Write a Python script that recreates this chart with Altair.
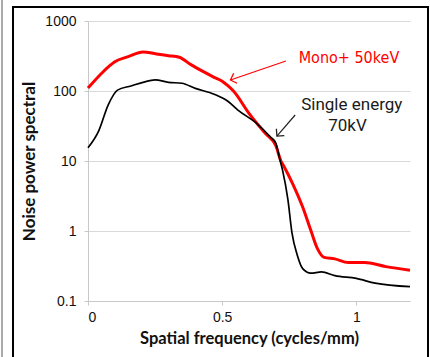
import math
import altair as alt
import pandas as pd

# ---- data ----
red_x = [0, 0.05, 0.08, 0.10, 0.15, 0.205, 0.255, 0.30, 0.34, 0.385, 0.43, 0.47, 0.50,
         0.52, 0.542, 0.60, 0.66, 0.70, 0.719, 0.731, 0.762, 0.80, 0.83, 0.855, 0.88,
         0.92, 0.97, 1.03, 1.11, 1.2]
red_y = [110, 178, 228, 262, 310, 362, 338, 320, 303, 236, 189, 157, 138,
         120, 100, 48, 25, 16.5, 10, 8.3, 4.8, 2.2, 1.03, 0.56, 0.42,
         0.40, 0.355, 0.355, 0.31, 0.275]

blk_x = [0, 0.04, 0.075, 0.11, 0.16, 0.205, 0.25, 0.30, 0.35, 0.40, 0.47, 0.52,
         0.56, 0.63, 0.68, 0.70, 0.715, 0.725, 0.745, 0.76, 0.78, 0.80, 0.83,
         0.87, 0.92, 1.0, 1.07, 1.2]
blk_y = [15.5, 27, 63, 103, 118, 133, 144, 133, 129, 109, 90, 72,
         53, 34, 22, 18, 10.5, 7.4, 2.8, 0.95, 0.45, 0.29, 0.25,
         0.26, 0.23, 0.21, 0.18, 0.16]

series_names = ["Mono+ 50keV", "Single energy 70kV"]
x_ticks = [0, 0.5, 1]
y_ticks = [0.1, 1, 10, 100, 1000]

# annotation anchors (data units)
red_label = ["Mono+ 50keV"]
red_label_x = [0.9725]
red_label_y = [250]
blk_label = ["Single energy", "70kV"]
blk_label_x = [0.983, 0.967]
blk_label_y = [53.5, 26.4]

arrow_x0 = [0.7376, 0.772]
arrow_y0 = [268.5, 45.4]
arrow_x1 = [0.5308, 0.704]
arrow_y1 = [143.6, 22.7]
arrow_color = ["#ff0000", "#222222"]

W, H = 322, 280
XMAX = 1.2


def px(x):
    return x / XMAX * W


def py(y):
    return H * (1 - (math.log10(y) + 1) / 4)


angles = []
for a, b, c, d in zip(arrow_x0, arrow_y0, arrow_x1, arrow_y1):
    dx = px(c) - px(a)
    dy = py(d) - py(b)
    angles.append((math.degrees(math.atan2(dy, dx)) + 360) % 360)

lines = pd.concat([
    pd.DataFrame({"x": red_x, "y": red_y, "s": series_names[0]}),
    pd.DataFrame({"x": blk_x, "y": blk_y, "s": series_names[1]}),
])
red_labels = pd.DataFrame({"t": red_label, "x": red_label_x, "y": red_label_y})
blk_labels = pd.DataFrame({"t": blk_label, "x": blk_label_x, "y": blk_label_y})
arrows = pd.DataFrame({"x0": arrow_x0, "y0": arrow_y0, "x1": arrow_x1, "y1": arrow_y1,
                       "c": arrow_color, "ang": angles})

xs = alt.Scale(domain=[0, XMAX], nice=False, zero=False)
ys = alt.Scale(type="log", domain=[0.1, 1000], nice=False)

x_axis = alt.Axis(values=x_ticks, format="~g", grid=False, title="Spatial frequency (cycles/mm)",
                  domainColor="#c8c8c8", tickColor="#c8c8c8", tickSize=4, labelPadding=5,
                  labelFont="Liberation Sans", labelFontSize=14, labelColor="#111",
                  titleFont="Lato", titleFontSize=16.5, titleFontWeight="bold", titleColor="#111",
                  titlePadding=6)
y_axis = alt.Axis(values=y_ticks, format="~g", grid=True, gridColor="#d9d9d9",
                  title="Noise power spectral",
                  domainColor="#c8c8c8", tickColor="#c8c8c8", tickSize=4, labelPadding=8,
                  labelFont="Liberation Sans", labelFontSize=14, labelColor="#111",
                  titleFont="Lato", titleFontSize=17, titleFontWeight="bold", titleColor="#111",
                  titlePadding=6)

base = alt.Chart(lines)
line_layer = base.mark_line(interpolate="monotone").encode(
    x=alt.X("x:Q", scale=xs, axis=x_axis),
    y=alt.Y("y:Q", scale=ys, axis=y_axis),
    detail="s:N",
    color=alt.Color("s:N", scale=alt.Scale(domain=series_names, range=["#ff0000", "#000000"]),
                    legend=None),
    strokeWidth=alt.StrokeWidth("s:N", scale=alt.Scale(domain=series_names, range=[3, 1.7]),
                                legend=None),
)

red_text = alt.Chart(red_labels).mark_text(
    align="center", baseline="alphabetic",
    font="'DejaVu Sans Condensed', 'Liberation Sans Narrow', Roboto, sans-serif", fontSize=16,
    color="#ff0000").encode(x="x:Q", y="y:Q", text="t:N")
blk_text = alt.Chart(blk_labels).mark_text(
    align="center", baseline="alphabetic", font="Roboto", fontSize=17,
    color="#1a1a1a").encode(x="x:Q", y="y:Q", text="t:N")

shaft = alt.Chart(arrows).mark_rule(strokeWidth=1.2).encode(
    x="x0:Q", y="y0:Q", x2="x1:Q", y2="y1:Q", color=alt.Color("c:N", scale=None))
head = alt.Chart(arrows).mark_point(shape="M-1,-1L0,0L-1,1", filled=False, size=110,
                                    strokeWidth=1.3, opacity=1).encode(
    x="x1:Q", y="y1:Q", angle=alt.Angle("ang:Q", scale=None), color=alt.Color("c:N", scale=None))

frame = alt.Chart(alt.Data(values=[{}])).mark_rect(fillOpacity=0, stroke="black", strokeWidth=2).encode(
    x=alt.value(-75), x2=alt.value(340), y=alt.value(-14), y2=alt.value(345))
edge = alt.Chart(alt.Data(values=[{}])).mark_rule(color="#aaaaaa", strokeWidth=2).encode(
    x=alt.value(-86), y=alt.value(-21), y2=alt.value(340))

chart = alt.layer(line_layer, shaft, head, red_text, blk_text, frame, edge).properties(
    width=W, height=H,
    autosize=alt.AutoSizeParams(type="none"),
    padding={"left": 88, "top": 21, "right": 20, "bottom": 56},
    background="white",
).configure_view(stroke=None)

chart.save("out.html", embed_options={"renderer": "svg", "actions": False})
